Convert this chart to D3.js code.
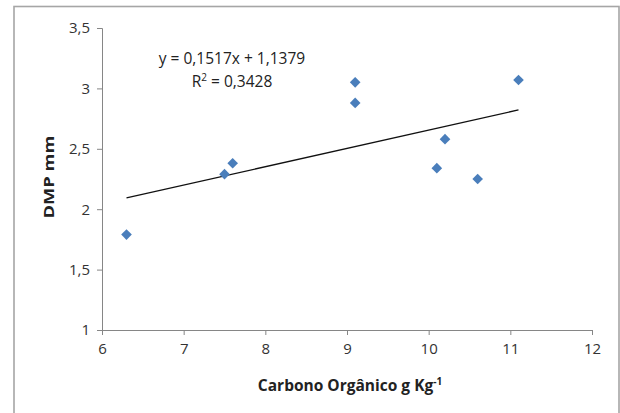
<!DOCTYPE html>
<html>
<head>
<meta charset="utf-8">
<script src="https://cdn.jsdelivr.net/npm/d3@7"></script>
<style>
  body { margin: 0; background: #fff; }
  text { font-family: "Open Sans", "DejaVu Sans", sans-serif; }
</style>
</head>
<body>
<div id="chart"></div>
<script>
// data
var carbono = [6.3, 7.5, 7.6, 9.1, 9.1, 10.1, 10.2, 10.6, 11.1];
var dmp = [1.79, 2.29, 2.38, 3.05, 2.88, 2.34, 2.58, 2.25, 3.07];
var xTicks = [6, 7, 8, 9, 10, 11, 12];
var yTicks = [1, 1.5, 2, 2.5, 3, 3.5];
var slope = 0.1517, intercept = 1.1379;
var eqText = "y = 0,1517x + 1,1379";
var r2Text = "0,3428";

var svgWidth = 620, svgHeight = 413;
var margin = { top: 28, right: 28, bottom: 83, left: 102 };
var chartWidth = svgWidth - margin.left - margin.right;
var chartHeight = svgHeight - margin.top - margin.bottom;

var svg = d3.select("#chart").append("svg")
  .attr("width", svgWidth)
  .attr("height", svgHeight);

// outer frame
svg.append("rect")
  .attr("x", 14).attr("y", 6.5)
  .attr("width", 605).attr("height", 420)
  .attr("fill", "none")
  .attr("stroke", "#a6a6a6")
  .attr("stroke-width", 1.6);

var chartGroup = svg.append("g")
  .attr("transform", `translate(${margin.left}, ${margin.top})`);

var x = d3.scaleLinear().domain([6, 12]).range([0, chartWidth]);
var y = d3.scaleLinear().domain([1, 3.5]).range([chartHeight, 0]);

var fmt = d => String(d).replace(".", ",");

var xAxis = chartGroup.append("g")
  .attr("transform", `translate(0, ${chartHeight})`)
  .call(d3.axisBottom(x).tickValues(xTicks).tickFormat(fmt).tickSize(5).tickPadding(8));

var yAxis = chartGroup.append("g")
  .call(d3.axisLeft(y).tickValues(yTicks).tickFormat(fmt).tickSize(5).tickPadding(7));

[xAxis, yAxis].forEach(a => {
  a.select(".domain").attr("stroke", "#868686");
  a.selectAll(".tick line").attr("stroke", "#868686");
  a.selectAll(".tick text")
    .attr("fill", "#333")
    .style("font-size", "15px")
    .style("font-family", "'Open Sans', sans-serif");
});

// trend line
var x0 = d3.min(carbono), x1 = d3.max(carbono);
chartGroup.append("line")
  .attr("x1", x(x0)).attr("y1", y(slope * x0 + intercept))
  .attr("x2", x(x1)).attr("y2", y(slope * x1 + intercept))
  .attr("stroke", "#111")
  .attr("stroke-width", 1.3);

// diamonds
chartGroup.selectAll("path.pt")
  .data(carbono)
  .enter()
  .append("path")
  .attr("class", "pt")
  .attr("d", d3.symbol().type(d3.symbolDiamond2).size(72))
  .attr("transform", (d, i) => `translate(${x(d)}, ${y(dmp[i])})`)
  .attr("fill", "#4a7ebb");

// equation
svg.append("text")
  .attr("x", 232).attr("y", 64)
  .attr("text-anchor", "middle")
  .style("font-size", "15.5px")
  .attr("fill", "#222")
  .text(eqText);

var r2 = svg.append("text")
  .attr("x", 232).attr("y", 87)
  .attr("text-anchor", "middle")
  .style("font-size", "15.5px")
  .attr("fill", "#222");
r2.append("tspan").text("R");
r2.append("tspan").attr("dy", -6).style("font-size", "10px").text("2");
r2.append("tspan").attr("dy", 6).text(" = " + r2Text);

// axis titles
svg.append("text")
  .attr("transform", "translate(54, 177) rotate(-90) scale(1.22, 1)")
  .attr("text-anchor", "middle")
  .style("font-size", "15px")
  .style("font-weight", "bold")
  .attr("fill", "#222")
  .text("DMP mm");

var xt = svg.append("text")
  .attr("x", 350).attr("y", 391)
  .attr("text-anchor", "middle")
  .style("font-size", "15.5px")
  .style("font-weight", "bold")
  .attr("fill", "#222");
xt.append("tspan").text("Carbono Orgânico  g Kg");
xt.append("tspan").attr("dy", -6).style("font-size", "10px").text("-1");
</script>
</body>
</html>
